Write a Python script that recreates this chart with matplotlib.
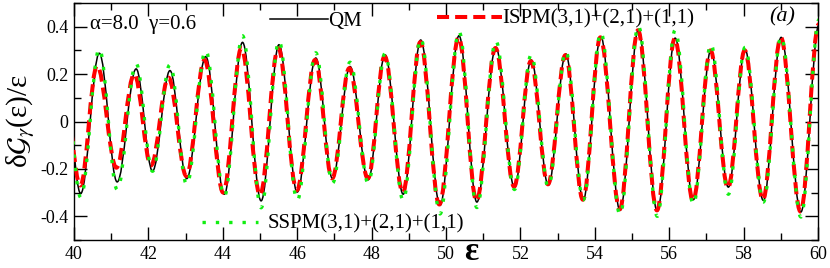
import matplotlib
matplotlib.use('Agg')
import matplotlib.pyplot as plt
from matplotlib.path import Path
from matplotlib.patches import PathPatch
from matplotlib.lines import Line2D
from matplotlib.ticker import MultipleLocator, FixedLocator, FixedFormatter

plt.rcParams['font.family'] = ['Liberation Serif', 'DejaVu Serif']
plt.rcParams['mathtext.fontset'] = 'stix'

# ---- data: successive extrema (peaks/troughs) ----
qm_x = [39.72, 40.18, 40.68, 41.16, 41.67, 42.11, 42.58, 43.03, 43.54, 44.04,
        44.53, 45.03, 45.51, 46.00, 46.50, 46.95, 47.42, 47.91, 48.36, 48.85,
        49.32, 49.84, 50.35, 50.83, 51.34, 51.84, 52.29, 52.75, 53.22, 53.69,
        54.16, 54.68, 55.17, 55.68, 56.16, 56.65, 57.12, 57.59, 58.04, 58.53,
        59.01, 59.54, 60.03]
qm_y = [0.22, -0.304, 0.288, -0.255, 0.222, -0.209, 0.215, -0.241, 0.274, -0.307,
        0.334, -0.335, 0.324, -0.298, 0.268, -0.241, 0.232, -0.246, 0.282, -0.307,
        0.344, -0.354, 0.362, -0.340, 0.313, -0.279, 0.260, -0.269, 0.285, -0.330,
        0.358, -0.375, 0.386, -0.378, 0.352, -0.330, 0.299, -0.277, 0.302, -0.333,
        0.355, -0.382, 0.41]

ispm_x = [39.70, 40.17, 40.62, 41.14, 41.62, 42.07, 42.54, 43.02, 43.51, 44.01,
          44.50, 45.00, 45.49, 45.99, 46.48, 46.94, 47.40, 47.90, 48.35, 48.84,
          49.31, 49.82, 50.34, 50.82, 51.33, 51.83, 52.28, 52.74, 53.21, 53.68,
          54.15, 54.67, 55.16, 55.67, 56.15, 56.64, 57.11, 57.58, 58.03, 58.52,
          59.00, 59.53, 60.02]
ispm_y = [0.18, -0.27, 0.235, -0.195, 0.20, -0.185, 0.185, -0.23, 0.26, -0.30,
          0.31, -0.31, 0.31, -0.29, 0.26, -0.24, 0.225, -0.24, 0.275, -0.30,
          0.335, -0.35, 0.355, -0.335, 0.31, -0.275, 0.255, -0.265, 0.28, -0.33,
          0.355, -0.37, 0.385, -0.375, 0.35, -0.335, 0.30, -0.28, 0.30, -0.33,
          0.355, -0.38, 0.41]

sspm_x = list(qm_x)
sspm_y = [0.25, -0.32, 0.307, -0.287, 0.244, -0.21, 0.24, -0.266, 0.30, -0.316,
          0.362, -0.364, 0.34, -0.333, 0.29, -0.26, 0.25, -0.26, 0.287, -0.333,
          0.35, -0.39, 0.38, -0.363, 0.34, -0.287, 0.282, -0.275, 0.296, -0.33,
          0.376, -0.393, 0.404, -0.40, 0.386, -0.35, 0.327, -0.307, 0.313, -0.34,
          0.358, -0.403, 0.43]

x_ticks = [40, 42, 44, 46, 48, 50, 52, 54, 56, 58, 60]
x_tick_labels = ['40', '42', '44', '46', '48', '50', '52', '54', '56', '58', '60']
y_ticks = [-0.4, -0.2, 0.0, 0.2, 0.4]
y_tick_labels = ['-0.4', '-0.2', '0', '0.2', '0.4']
series_labels = ['QM', 'ISPM(3,1)+(2,1)+(1,1)', 'SSPM(3,1)+(2,1)+(1,1)']
param_text = 'α=8.0  γ=0.6'
panel_label = '(a)'
x_label = 'ε'
y_label = r'δ$\mathcal{G}_{\gamma}$(ε)/ε'


def smooth_path(xs, ys, k=0.364):
    """Smooth curve through successive extrema (horizontal tangents)."""
    verts = [(xs[0], ys[0])]
    codes = [Path.MOVETO]
    for i in range(1, len(xs)):
        dx = xs[i] - xs[i - 1]
        verts += [(xs[i - 1] + k * dx, ys[i - 1]), (xs[i] - k * dx, ys[i]), (xs[i], ys[i])]
        codes += [Path.CURVE4] * 3
    return Path(verts, codes)


GREEN = '#11ee11'
qm_style = dict(color='black', lw=1.1, linestyle='-')
ispm_style = dict(color='red', lw=2.9, linestyle=(0, (3.0, 1.5)))
sspm_style = dict(color=GREEN, lw=2.4, linestyle=(0, (1, 3.0)))

fig = plt.figure(figsize=(8.3, 2.68), dpi=100)
ax = fig.add_axes([74 / 830, 28 / 268, 744 / 830, 237 / 268])

for xs, ys, st, z in [(qm_x, qm_y, qm_style, 2), (ispm_x, ispm_y, ispm_style, 3),
                      (sspm_x, sspm_y, sspm_style, 4)]:
    p = PathPatch(smooth_path(xs, ys), fill=False, edgecolor=st['color'],
                  linewidth=st['lw'], linestyle=st['linestyle'],
                  capstyle='butt', joinstyle='round', zorder=z)
    ax.add_patch(p)

ax.set_xlim(40, 60)
ax.set_ylim(-0.5, 0.5)
ax.xaxis.set_major_locator(FixedLocator(x_ticks))
ax.xaxis.set_major_formatter(FixedFormatter(x_tick_labels))
ax.yaxis.set_major_locator(FixedLocator(y_ticks))
ax.yaxis.set_major_formatter(FixedFormatter(y_tick_labels))
ax.xaxis.set_minor_locator(MultipleLocator(1))
ax.yaxis.set_minor_locator(MultipleLocator(0.1))
ax.tick_params(which='both', direction='in', top=True, right=True, width=1.0,
               labelsize=13)
ax.tick_params(which='major', length=9.5)
ax.tick_params(which='minor', length=5)
ax.tick_params(axis='y', pad=4)
ax.tick_params(axis='x', pad=4)
for s in ax.spines.values():
    s.set_linewidth(1.0)

# x label sits between the 50 and 52 tick labels, as in the reference
ax.text(0.534, -0.0823, x_label, transform=ax.transAxes, fontsize=24,
        fontweight='bold', ha='center', va='baseline')
ax.set_ylabel(y_label, fontsize=21)
ax.yaxis.set_label_coords(-0.05, 0.5)

h_qm = Line2D([], [], color='black', lw=1.1)
h_ispm = Line2D([], [], color='red', lw=2.9, linestyle=(0, (3.0, 1.5)), dash_capstyle='butt')
h_sspm = Line2D([], [], color=GREEN, lw=2.4, linestyle=(0, (1, 3.0)), dash_capstyle='butt')

common = dict(frameon=False, borderpad=0, borderaxespad=0, fontsize=15,
              handletextpad=0.0)
leg1 = ax.legend([h_qm], [series_labels[0]], loc='center left',
                 bbox_to_anchor=(0.2634, 0.924), handlelength=2.78, **common)
ax.add_artist(leg1)
leg2 = ax.legend([h_ispm], [series_labels[1]], loc='center left',
                 bbox_to_anchor=(0.488, 0.932), handlelength=3.12, **common)
ax.add_artist(leg2)
common['handletextpad'] = 0.45
leg3 = ax.legend([h_sspm], [series_labels[2]], loc='center left',
                 bbox_to_anchor=(0.172, 0.0675), handlelength=2.69, **common)

ax.text(0.0215, 0.911, param_text, transform=ax.transAxes, fontsize=15,
        ha='left', va='center')
ax.text(0.935, 0.941, panel_label, transform=ax.transAxes, fontsize=16,
        ha='left', va='center', style='italic')

fig.savefig('out.png', dpi=100)
